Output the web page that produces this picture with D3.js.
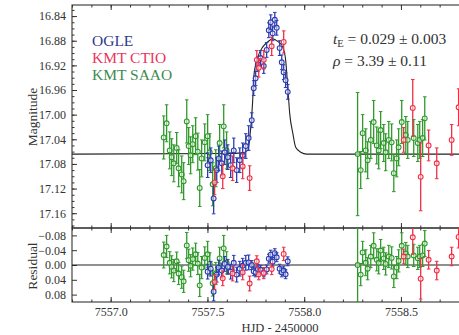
<!DOCTYPE html>
<html>
<head>
<meta charset="utf-8">
<script src="https://cdn.jsdelivr.net/npm/d3@7"></script>
<style>
  body { margin: 0; background: #fff; }
  text { font-family: "Liberation Serif", "DejaVu Serif", serif; fill: #333; }
</style>
</head>
<body>
<div id="chart-div"></div>
<script>
// --- data ---
// model light curve
const modelT   = [7556.8, 7557.60, 7557.68, 7557.708, 7557.724, 7557.734, 7557.739, 7557.760, 7557.786, 7557.811, 7557.837, 7557.863, 7557.889, 7557.904, 7557.915, 7557.925, 7557.941, 7557.956, 7557.982, 7558.013, 7559.0];
const modelMag = [17.064, 17.063, 17.062, 17.058, 17.020, 16.976, 16.939, 16.907, 16.890, 16.882, 16.877, 16.881, 16.890, 16.911, 16.955, 16.998, 17.030, 17.053, 17.061, 17.064, 17.064];

// KMT SAAO
const saaoT   = [7557.274, 7557.289, 7557.305, 7557.315, 7557.326, 7557.341, 7557.351, 7557.367, 7557.377, 7557.393, 7557.403, 7557.413, 7557.424, 7557.439, 7557.450, 7557.460, 7557.470, 7557.486, 7557.501, 7557.512, 7557.527, 7557.543, 7557.563, 7557.584, 7557.599,
                 7558.276, 7558.292, 7558.302, 7558.318, 7558.328, 7558.344, 7558.359, 7558.375, 7558.385, 7558.395, 7558.411, 7558.421, 7558.437, 7558.452, 7558.463, 7558.478, 7558.488, 7558.504, 7558.525, 7558.535, 7558.566, 7558.587, 7558.597, 7558.612, 7558.623];
const saaoMag = [17.037, 17.014, 17.058, 17.069, 17.079, 17.054, 17.087, 17.097, 17.108, 17.011, 17.051, 17.066, 17.048, 17.035, 17.060, 17.119, 17.071, 17.045, 17.035, 17.061, 17.113, 17.087, 17.046, 17.019, 17.058,
                 17.064, 17.090, 17.030, 17.058, 17.074, 17.041, 17.012, 17.050, 17.058, 17.025, 17.046, 17.061, 17.041, 17.045, 17.095, 17.071, 17.053, 17.012, 17.033, 17.041, 17.038, 17.046, 17.041, 17.038, 17.006];
const saaoErr = [0.035, 0.030, 0.030, 0.030, 0.030, 0.025, 0.030, 0.030, 0.030, 0.035, 0.030, 0.030, 0.030, 0.030, 0.030, 0.030, 0.030, 0.030, 0.035, 0.030, 0.035, 0.030, 0.030, 0.035, 0.030,
                 0.100, 0.030, 0.030, 0.035, 0.030, 0.030, 0.035, 0.030, 0.030, 0.030, 0.030, 0.030, 0.030, 0.030, 0.030, 0.030, 0.030, 0.035, 0.030, 0.030, 0.030, 0.030, 0.030, 0.030, 0.035];
const saaoRes = [-0.027, -0.050, -0.006, 0.005, 0.015, -0.010, 0.023, 0.033, 0.044, -0.053, -0.013, 0.002, -0.016, -0.029, -0.004, 0.055, 0.007, -0.019, -0.029, -0.003, 0.049, 0.023, -0.018, -0.045, -0.006,
                 0.000, 0.026, -0.034, -0.006, 0.010, -0.023, -0.052, -0.014, -0.006, -0.039, -0.018, -0.003, -0.023, -0.019, 0.031, 0.007, -0.011, -0.052, -0.031, -0.023, -0.026, -0.018, -0.023, -0.026, -0.058];

// OGLE
const ogleT   = [7557.501, 7557.517, 7557.532, 7557.548, 7557.558, 7557.574, 7557.589, 7557.605, 7557.620, 7557.636, 7557.651, 7557.667, 7557.682, 7557.698, 7557.713,
                 7557.729, 7557.739, 7557.749, 7557.760, 7557.775, 7557.791, 7557.806, 7557.817, 7557.827, 7557.837, 7557.848, 7557.858, 7557.873, 7557.884, 7557.894, 7557.904, 7557.915];
const ogleMag = [17.082, 17.074, 17.136, 17.090, 17.071, 17.079, 17.061, 17.069, 17.082, 17.058, 17.090, 17.074, 17.066, 17.051, 17.038,
                 17.009, 16.957, 16.941, 16.918, 16.908, 16.921, 16.895, 16.863, 16.850, 16.868, 16.846, 16.859, 16.892, 16.915, 16.931, 16.944, 16.963];
const ogleErr = [0.020, 0.020, 0.025, 0.020, 0.020, 0.020, 0.020, 0.020, 0.020, 0.020, 0.020, 0.020, 0.020, 0.020, 0.020,
                 0.012, 0.012, 0.012, 0.012, 0.012, 0.012, 0.012, 0.012, 0.012, 0.012, 0.012, 0.012, 0.012, 0.012, 0.012, 0.012, 0.012];
const ogleRes = [0.018, 0.010, 0.072, 0.026, 0.007, 0.015, -0.003, 0.005, 0.018, -0.006, 0.026, 0.010, 0.002, -0.006, -0.007,
                 0.000, 0.017, 0.020, 0.011, 0.013, 0.020, 0.012, -0.017, -0.028, -0.009, -0.032, -0.021, 0.010, 0.020, 0.015, 0.025, -0.010];

// KMT CTIO
const ctioT   = [7557.537, 7557.579, 7557.630, 7557.682, 7557.718, 7557.755, 7557.765, 7557.791, 7557.832, 7557.894,
                 7558.514, 7558.561, 7558.602, 7558.643, 7558.685, 7558.762, 7558.798];
const ctioMag = [17.110, 17.100, 17.087, 17.084, 17.103, 16.911, 16.924, 16.911, 16.889, 16.882,
                 17.041, 16.989, 17.101, 17.050, 17.079, 17.041, 16.988];
const ctioErr = [0.020, 0.020, 0.020, 0.020, 0.020, 0.015, 0.015, 0.015, 0.015, 0.018,
                 0.020, 0.046, 0.055, 0.025, 0.025, 0.025, 0.030];
const ctioRes = [0.046, 0.036, 0.023, 0.020, 0.050, -0.010, 0.025, 0.022, 0.011, -0.030,
                 -0.023, -0.075, 0.037, -0.014, 0.015, -0.023, -0.076];

const legendNames  = ["OGLE", "KMT CTIO", "KMT SAAO"];
const magTicks = [16.84, 16.88, 16.92, 16.96, 17.00, 17.04, 17.08, 17.12, 17.16];
const resTicks = [-0.08, -0.04, 0.00, 0.04, 0.08];
const hjdTicks = [7557.0, 7557.5, 7558.0, 7558.5];

// --- chart ---
const width = 459, height = 335;
const colors = { ogle: "#2d3cb0", ctio: "#ee2f45", saao: "#2f9a2a" };
const legendColors = ["#2e3a87", "#e8365d", "#3d8b4f"];

const svg = d3.select("#chart-div").append("svg")
    .attr("width", width).attr("height", height);

const left = 72, right = 497.7;
const topY = 5, midY = 228, botY = 302;

const x = d3.scaleLinear().domain([7556.8, 7559.0]).range([left, right]);
const yMag = d3.scaleLinear().domain([16.822, 17.184]).range([topY, midY]);
const yRes = d3.scaleLinear().domain([-0.1, 0.1]).range([midY, botY]);

// clip paths for the two panels
const defs = svg.append("defs");
defs.append("clipPath").attr("id", "clipTop").append("rect")
    .attr("x", left).attr("y", topY).attr("width", right - left).attr("height", midY - topY);
defs.append("clipPath").attr("id", "clipBot").append("rect")
    .attr("x", left).attr("y", midY).attr("width", right - left).attr("height", botY - midY);

const minorX = d3.range(7556.8, 7559.01, 0.1);
const minorMag = d3.range(16.83, 17.181, 0.01);

function styleAxis(g) {
  g.select(".domain").remove();
  g.selectAll("line").attr("stroke", "#333");
  g.selectAll("text").attr("font-size", 12).attr("fill", "#333")
   .style("font-family", '"Liberation Serif", serif');
}

// x ticks on each horizontal edge (inward)
function xTicks(yPos, dir, labels) {
  const mk = dir > 0 ? d3.axisBottom : d3.axisTop;
  svg.append("g").attr("transform", `translate(0,${yPos})`)
     .call(mk(x).tickValues(minorX).tickSize(-2.5).tickFormat(""))
     .call(styleAxis);
  svg.append("g").attr("transform", `translate(0,${yPos})`)
     .call(mk(x).tickValues(hjdTicks).tickSize(-5).tickPadding(5)
           .tickFormat(labels ? d3.format(".1f") : ""))
     .call(styleAxis);
}
xTicks(topY, -1, false);
xTicks(midY, 1, false);
xTicks(midY, -1, false);
xTicks(botY, 1, true);

// y ticks
svg.append("g").attr("transform", `translate(${left},0)`)
   .call(d3.axisLeft(yMag).tickValues(minorMag).tickSize(-2.5).tickFormat(""))
   .call(styleAxis);
svg.append("g").attr("transform", `translate(${left},0)`)
   .call(d3.axisLeft(yMag).tickValues(magTicks).tickSize(-5).tickPadding(6).tickFormat(d3.format(".2f")))
   .call(styleAxis);
svg.append("g").attr("transform", `translate(${left},0)`)
   .call(d3.axisLeft(yRes).tickValues(resTicks).tickSize(-5).tickPadding(6)
         .tickFormat(d => d3.format(".2f")(d).replace("-", "\u2212")))
   .call(styleAxis);

// frames
svg.append("rect").attr("x", left).attr("y", topY).attr("width", right - left).attr("height", midY - topY)
   .attr("fill", "none").attr("stroke", "#333").attr("stroke-width", 1.1);
svg.append("rect").attr("x", left).attr("y", midY).attr("width", right - left).attr("height", botY - midY)
   .attr("fill", "none").attr("stroke", "#333").attr("stroke-width", 1.1);

const gTop = svg.append("g").attr("clip-path", "url(#clipTop)");
const gBot = svg.append("g").attr("clip-path", "url(#clipBot)");

// model and zero line
const model = modelT.map((t, i) => [t, modelMag[i]]);
gTop.append("path").datum(model)
   .attr("fill", "none").attr("stroke", "#222").attr("stroke-width", 1.1)
   .attr("d", d3.line().x(d => x(d[0])).y(d => yMag(d[1])).curve(d3.curveMonotoneX));
gBot.append("line").attr("x1", left).attr("x2", right)
   .attr("y1", yRes(0)).attr("y2", yRes(0)).attr("stroke", "#222").attr("stroke-width", 1.1);

function drawSeries(g, ts, vals, errs, y, color) {
  const pts = ts.map((t, i) => ({ t: t, v: vals[i], e: errs[i] }));
  const s = g.append("g").selectAll("g").data(pts).enter().append("g");
  s.append("line")
    .attr("x1", d => x(d.t)).attr("x2", d => x(d.t))
    .attr("y1", d => y(d.v - d.e)).attr("y2", d => y(d.v + d.e))
    .attr("stroke", color).attr("stroke-width", 1.3);
  s.append("line")
    .attr("x1", d => x(d.t) - 1.8).attr("x2", d => x(d.t) + 1.8)
    .attr("y1", d => y(d.v - d.e)).attr("y2", d => y(d.v - d.e))
    .attr("stroke", color).attr("stroke-width", 1);
  s.append("line")
    .attr("x1", d => x(d.t) - 1.8).attr("x2", d => x(d.t) + 1.8)
    .attr("y1", d => y(d.v + d.e)).attr("y2", d => y(d.v + d.e))
    .attr("stroke", color).attr("stroke-width", 1);
  s.append("circle")
    .attr("cx", d => x(d.t)).attr("cy", d => y(d.v)).attr("r", 2.4)
    .attr("fill", "rgba(255,255,255,0.5)").attr("stroke", color).attr("stroke-width", 1.1);
}

drawSeries(gTop, saaoT, saaoMag, saaoErr, yMag, colors.saao);
drawSeries(gTop, ogleT, ogleMag, ogleErr, yMag, colors.ogle);
drawSeries(gTop, ctioT, ctioMag, ctioErr, yMag, colors.ctio);

drawSeries(gBot, saaoT, saaoRes, saaoErr, yRes, colors.saao);
drawSeries(gBot, ogleT, ogleRes, ogleErr, yRes, colors.ogle);
drawSeries(gBot, ctioT, ctioRes, ctioErr, yRes, colors.ctio);

// legend
svg.append("g").selectAll("text").data(legendNames).enter().append("text")
   .attr("x", 92).attr("y", (d, i) => 46 + i * 17)
   .attr("font-size", 15.5)
   .style("fill", (d, i) => legendColors[i])
   .text(d => d);

// parameters
const ann1 = svg.append("text").attr("x", 333).attr("y", 44).attr("font-size", 15.5);
ann1.append("tspan").attr("font-style", "italic").text("t");
ann1.append("tspan").attr("font-size", 10.5).attr("dy", 3).text("E");
ann1.append("tspan").attr("dy", -3).text(" = 0.029 \u00b1 0.003");
const ann2 = svg.append("text").attr("x", 333).attr("y", 66).attr("font-size", 15.5);
ann2.append("tspan").attr("font-style", "italic").text("\u03c1");
ann2.append("tspan").text(" = 3.39 \u00b1 0.11");

// axis titles
svg.append("text").attr("transform", "translate(37,117) rotate(-90)")
   .attr("text-anchor", "middle").attr("font-size", 13.5).text("Magnitude");
svg.append("text").attr("transform", "translate(37,266) rotate(-90)")
   .attr("text-anchor", "middle").attr("font-size", 13.5).text("Residual");
svg.append("text").attr("x", 280).attr("y", 332)
   .attr("text-anchor", "middle").attr("font-size", 12.5).text("HJD - 2450000");
</script>
</body>
</html>
